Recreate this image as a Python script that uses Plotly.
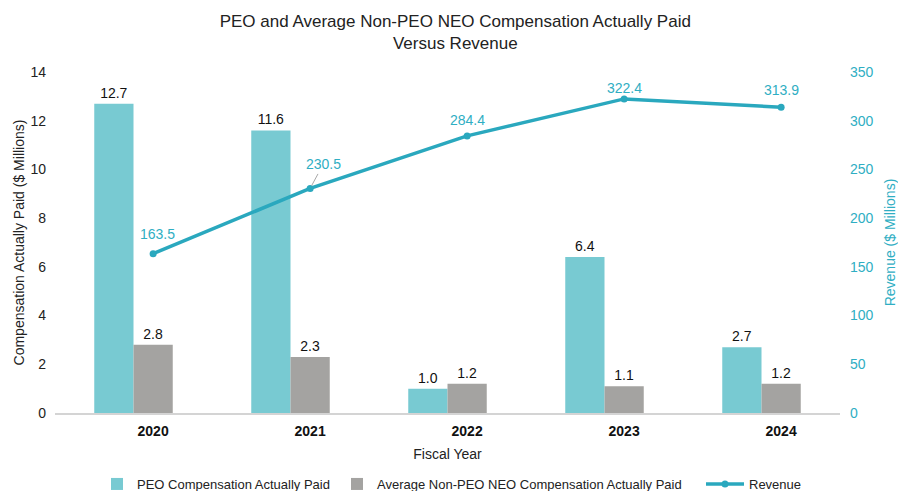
import plotly.graph_objects as go

years = ["2020", "2021", "2022", "2023", "2024"]
peo_cap = [12.7, 11.6, 1.0, 6.4, 2.7]
neo_cap = [2.8, 2.3, 1.2, 1.1, 1.2]
revenue = [163.5, 230.5, 284.4, 322.4, 313.9]

# label placement (pixel offsets) for revenue labels
rev_label_dx = [4, 13, 0, 0, 0]
rev_label_dy = [-20, -22, -16, -11, -17]
rev_label_arrow = [False, True, False, False, False]

TEAL_BAR = "#78CAD2"
GRAY_BAR = "#A4A3A1"
TEAL_LINE = "#2AA8BE"
TEAL_TEXT = "#2FAEC3"
FONT = "Liberation Sans"

fig = go.Figure()

fig.add_trace(go.Bar(
    x=years, y=peo_cap, name="PEO Compensation Actually Paid",
    marker=dict(color=TEAL_BAR, line=dict(width=0)),
    width=0.25, offset=-0.375,
    texttemplate="%{y:.1f}", textposition="outside", constraintext="none",
    textfont=dict(size=14, color="#111111", family=FONT),
    cliponaxis=False, legend="legend",
))
fig.add_trace(go.Bar(
    x=years, y=neo_cap, name="Average Non-PEO NEO Compensation Actually Paid",
    marker=dict(color=GRAY_BAR, line=dict(width=0)),
    width=0.25, offset=-0.125,
    texttemplate="%{y:.1f}", textposition="outside", constraintext="none",
    textfont=dict(size=14, color="#111111", family=FONT),
    cliponaxis=False, legend="legend2",
))
fig.add_trace(go.Scatter(
    x=years, y=revenue, name="Revenue", yaxis="y2",
    mode="lines+markers",
    line=dict(color=TEAL_LINE, width=3.5),
    marker=dict(color=TEAL_LINE, size=7),
    cliponaxis=False, legend="legend3",
))

for i, (v, dx, dy, arr) in enumerate(zip(revenue, rev_label_dx, rev_label_dy, rev_label_arrow)):
    if arr:
        fig.add_annotation(
            x=i, y=v, xref="x", yref="y2", text=f"{v:.1f}",
            showarrow=True, arrowhead=0, arrowwidth=1, arrowcolor="#A8A8A8",
            ax=dx, ay=dy - 2, standoff=3,
            font=dict(size=14, color=TEAL_TEXT, family=FONT),
        )
    else:
        fig.add_annotation(
            x=i, y=v, xref="x", yref="y2", text=f"{v:.1f}",
            showarrow=False, xshift=dx, yshift=-dy,
            font=dict(size=14, color=TEAL_TEXT, family=FONT),
        )

legend_common = dict(xref="container", yref="container", y=1 - 484 / 491,
                     xanchor="left", yanchor="middle",
                     orientation="h", font=dict(size=13, color="#222222"),
                     bgcolor="rgba(0,0,0,0)")

fig.update_layout(
    width=898, height=491,
    margin=dict(l=55, r=58, t=72, b=78, autoexpand=False),
    paper_bgcolor="white", plot_bgcolor="white",
    font=dict(family=FONT, color="#222222"),
    title=dict(
        text="PEO and Average Non-PEO NEO Compensation Actually Paid<br>Versus Revenue",
        x=0.507, xanchor="center", yref="container", y=1 - 27 / 491, yanchor="top",
        font=dict(size=17, color="#222222", family=FONT),
    ),
    barmode="overlay",
    showlegend=True,
    xaxis=dict(
        type="category", range=[-0.625, 4.375], automargin=False,
        showgrid=False, zeroline=False,
        showline=True, linecolor="#D4D4D4", linewidth=1.5,
        ticks="", ticklabelstandoff=4,
        tickfont=dict(size=14, color="#111111", family=FONT, weight="bold"),
        title=dict(text="Fiscal Year", font=dict(size=14, color="#222222"), standoff=12),
    ),
    yaxis=dict(
        range=[0, 14], dtick=2, showgrid=False, zeroline=False, showline=False,
        ticks="", ticklabelstandoff=8, automargin=False,
        tickfont=dict(size=14, color="#222222"),
        title=dict(text="Compensation Actually Paid ($ Millions)",
                   font=dict(size=14, color="#222222"), standoff=2),
    ),
    yaxis2=dict(
        overlaying="y", side="right", range=[0, 350], dtick=50,
        showgrid=False, zeroline=False, showline=False, ticks="",
        ticklabelstandoff=9, automargin=False,
        tickfont=dict(size=14, color=TEAL_TEXT),
        title=dict(text="Revenue ($ Millions)",
                   font=dict(size=14, color=TEAL_TEXT), standoff=16),
    ),
    legend=dict(x=97 / 898, itemwidth=30, **legend_common),
    legend2=dict(x=337 / 898, itemwidth=30, **legend_common),
    legend3=dict(x=701 / 898, itemwidth=38, **legend_common),
)

fig.write_html("out.html", config={"displayModeBar": False},
               post_script="document.body.style.margin='0';")
